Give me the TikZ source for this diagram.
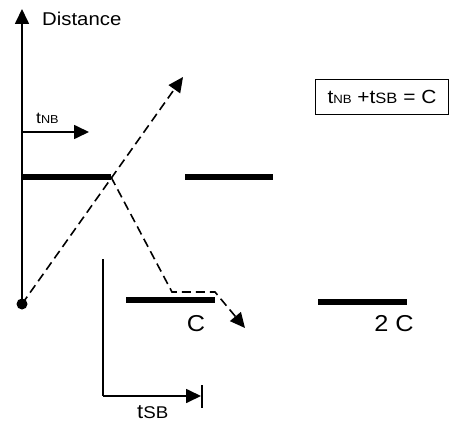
\documentclass[tikz,border=0pt]{standalone}
\usepackage{fontspec}
\setmainfont[FakeStretch=1.1]{Liberation Sans}
\usetikzlibrary{arrows.meta}
\begin{document}
\begin{tikzpicture}[x=1pt,y=-1pt,
  thin line/.style={line width=1.7pt},
  bar/.style={line width=6pt},
  dline/.style={line width=1.6pt,dash pattern=on 9pt off 5pt},
  tip/.style={-{Triangle[length=15pt,width=14pt]}},
  lbl/.style={inner sep=0pt,font=\fontsize{18.5}{18.5}\selectfont},
  big/.style={inner sep=0pt,font=\fontsize{23}{23}\selectfont}]
\useasboundingbox (0,0) rectangle (449,422);
% axis
\coordinate (o) at (22,304);
\coordinate (top) at (22,9);
\draw[thin line,tip] (o) -- (top);
\fill (o) circle (5.5);
\node[lbl,anchor=base west] (dist) at (42,26) {Distance};
% tNB arrow
\coordinate (nb0) at (22,132);
\coordinate (nb1) at (89,132);
\draw[thin line,tip] (nb0) -- (nb1);
\node[inner sep=0pt,anchor=base west,font=\fontsize{16}{16}\selectfont] (tnb) at (36,124) {t{\fontsize{11.5}{11.5}\selectfont NB}};
% bars
\coordinate (b1a) at (22,177); \coordinate (b1b) at (111,177);
\coordinate (b2a) at (185,177); \coordinate (b2b) at (273,177);
\coordinate (b3a) at (126,300); \coordinate (b3b) at (215,300);
\coordinate (b4a) at (318,302); \coordinate (b4b) at (407,302);
\draw[bar] (b1a) -- (b1b);
\draw[bar] (b2a) -- (b2b);
\draw[bar] (b3a) -- (b3b);
\draw[bar] (b4a) -- (b4b);
\node[big,anchor=base] (c1) at (196,331) {C};
\node[big,anchor=base] (c2) at (394,331) {2 C};
% dashed lines
\coordinate (d1) at (183,77);
\draw[dline,tip] (o) -- (d1);
\coordinate (k1) at (172,292);
\coordinate (k2) at (215,292);
\coordinate (d2) at (245,328);
\draw[dline,tip] (b1b) -- (k1) -- (k2) -- (d2);
% tSB
\coordinate (sb0) at (103,259);
\coordinate (sb1) at (103,396);
\coordinate (sb2) at (201,396);
\coordinate (sbt) at (202,385);
\coordinate (sbb) at (202,408);
\draw[thin line] (sb0) -- (sb1);
\draw[thin line,tip] (sb1) -- (sb2);
\draw[thin line] (sbt) -- (sbb);
\node[inner sep=0pt,anchor=base west,font=\fontsize{20}{20}\selectfont] (tsb) at (137,418) {t{\fontsize{17}{17}\selectfont SB}};
% box
\node[draw,line width=0.9pt,minimum width=133pt,minimum height=35pt,inner sep=0pt,anchor=north west,
  font=\fontsize{19}{19}\selectfont] (eq) at (315,79)
  {t{\fontsize{12}{12}\selectfont NB} +t{\fontsize{15}{15}\selectfont SB} = C};
\end{tikzpicture}
\end{document}
